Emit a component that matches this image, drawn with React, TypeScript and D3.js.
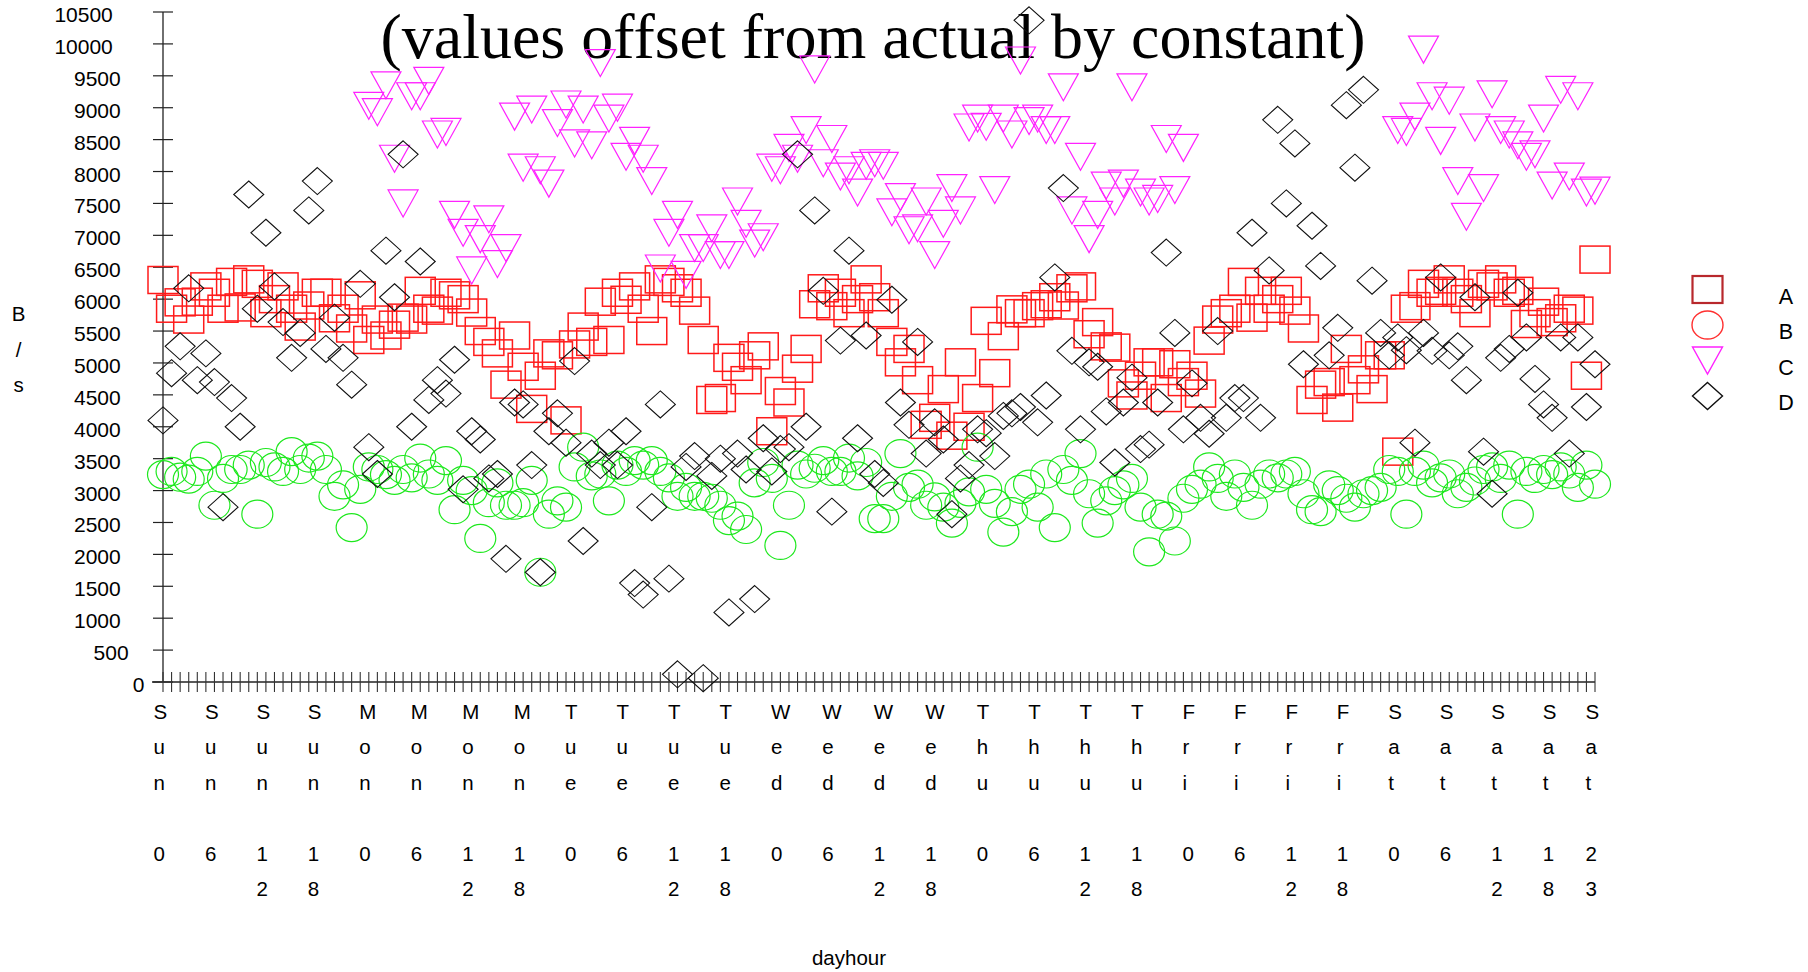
import React from "react";
import * as d3 from "d3";

// hour-of-week scatter, one value per hour (0 = Sun 0h ... 167 = Sat 23h)
const days = ["Sun", "Mon", "Tue", "Wed", "Thu", "Fri", "Sat"];
const labelHours = [0, 6, 12, 18];
const lastHour = 167;
const yMax = 10500;
const yStep = 500;

const seriesA = [
  6300, 5850, 5950, 5680, 5960, 6200, 6100, 5850, 6270, 5870, 6310, 6240, 5780, 6000, 6200, 5850, 5570, 5900, 6100, 6100, 5700, 5850, 5540, 6060,
  5360, 5680, 5430, 5600, 5710, 5680, 6130, 5850, 5820, 6100, 6060, 6000, 5790, 5500, 5330, 5150, 4660, 5430, 4940, 4280, 4800, 5150, 5120, 4100,
  5290, 5570, 5330, 5960, 5360, 6100, 5990, 6200, 5850, 5500, 6310, 6270, 6170, 6100, 5820, 5360, 4420, 4450, 5080, 4940, 4730, 5120, 5260, 3930,
  4560, 4380, 4910, 5220, 5920, 6170, 5890, 6100, 5780, 6000, 6310, 6030, 5780, 5330, 5010, 5220, 4730, 4030, 4140, 4590, 3860, 5010, 4000, 4450,
  5660, 4840, 5420, 5840, 5780, 5780, 5890, 5920, 6030, 5900, 6170, 6200, 5450, 5640, 5260, 5240, 4680, 4490, 4800, 5010, 5010, 4450, 4980, 4700,
  4800, 4520, 5350, 5680, 5780, 5850, 6270, 5710, 6130, 5850, 6000, 6130, 5820, 5540, 4420, 4660, 4700, 4300, 5220, 4730, 4900, 4590, 5120, 5120,
  3610, 5850, 5890, 6240, 6100, 6130, 6310, 6100, 6000, 5780, 6240, 6200, 6310, 6100, 6130, 5610, 5780, 5960, 5640, 5700, 5850, 5820, 4800, 6620,
];

const seriesB = [
  3250, 3300, 3210, 3180, 3300, 3540, 2770, 3190, 3330, 3330, 3400, 2630, 3440, 3370, 3300, 3610, 3330, 3510, 3540, 3330, 2910, 3090, 2420, 3020,
  3370, 3330, 3250, 3160, 3330, 3200, 3510, 3260, 3160, 3470, 2700, 3160, 3000, 2250, 2810, 3120, 2770, 2770, 2810, 3160, 1720, 2630, 2840, 2740,
  3370, 3680, 3230, 3260, 2840, 3400, 3300, 3470, 3400, 3470, 3300, 3200, 2910, 3050, 2910, 2910, 2880, 2770, 2530, 2600, 2390, 3120, 3440, 3190,
  2140, 2770, 3400, 3260, 3350, 3470, 3300, 3300, 3510, 3230, 3440, 2560, 2560, 2910, 3580, 3050, 3100, 2770, 2900, 2740, 2490, 2800, 2980, 3680,
  3020, 2800, 2350, 2670, 3020, 3100, 2740, 3260, 2420, 3330, 3160, 3580, 2950, 2490, 2840, 3000, 3090, 3190, 2740, 2040, 2630, 2600, 2210, 2880,
  3020, 3100, 3370, 3190, 2910, 3260, 3050, 2770, 3100, 3260, 3200, 3260, 3300, 2950, 2700, 2670, 3090, 3000, 2880, 2740, 2950, 3000, 3050, 3330,
  3300, 2630, 3300, 3400, 3120, 3200, 3260, 2950, 3050, 3150, 3330, 3370, 3190, 3400, 2630, 3300, 3190, 3330, 3250, 3370, 3260, 3050, 3400, 3100,
];

// C has no samples on Sunday and on Friday
const seriesC: (number | null)[] = [
  null, null, null, null, null, null, null, null, null, null, null, null, null, null, null, null, null, null, null, null, null, null, null, null,
  9030, 8930, 9350, 8200, 7500, 9180, 9180, 9420, 8580, 8620, 7320, 7040, 6450, 6940, 7250, 6550, 6800, 8860, 8060, 8970, 8020, 7810, 8760, 9050,
  8440, 8970, 8410, 9700, 8830, 9000, 8230, 8480, 8200, 7850, 6480, 7040, 7320, 6380, 6800, 6800, 7110, 6690, 6690, 7530, 7180, 6870, 6970, 8060,
  8020, 8370, 8200, 8650, 9600, 8130, 8510, 7920, 8020, 7670, 8090, 8130, 8090, 7360, 7600, 7080, 7110, 7530, 6690, 7180, 7740, 7390, 8690, 8830,
  8700, 7710, 8830, 8580, 9740, 8790, 8830, 8650, 8650, 9320, 7390, 8230, 6940, 7320, 7780, 7530, 7810, 9320, 7670, 7530, 7570, 8510, 7710, 8370,
  null, null, null, null, null, null, null, null, null, null, null, null, null, null, null, null, null, null, null, null, null, null, null, null,
  8650, 8620, 8860, 9910, 9180, 8480, 9110, 7850, 7290, 8690, 7740, 9210, 8650, 8580, 8410, 8230, 8270, 8830, 7780, 9280, 7920, 9180, 7670, 7700,
];

const seriesD = [
  4100, 4840, 5260, 6170, 4730, 5150, 4700, 2740, 4450, 4000, 7640, 5850, 7040, 6200, 5640, 5080, 5470, 7390, 7850, 5220, 5710, 5080, 4660, 6240,
  3680, 3260, 6760, 6030, 8270, 4000, 6590, 4420, 4730, 4520, 5050, 3020, 3930, 3800, 3190, 3260, 1930, 4380, 4350, 3400, 1720, 3930, 4210, 3750,
  5030, 2210, 3580, 3400, 3750, 3400, 3930, 1550, 1370, 2740, 4350, 1620, 120, 3370, 3540, 60, 3230, 3500, 1090, 3580, 3330, 1300, 3820, 3300,
  3650, 3680, 8270, 4000, 7390, 6130, 2670, 5350, 6760, 3820, 5430, 3260, 3120, 5990, 4380, 4030, 5330, 3580, 4070, 3800, 2630, 3190, 3400, 3960,
  3900, 3540, 4170, 4210, 4310, 10370, 4070, 4490, 6340, 7740, 5190, 3960, 5010, 4940, 4240, 3440, 4380, 4770, 3650, 3720, 4380, 6730, 5470, 3960,
  4680, 4140, 3890, 5500, 4140, 4450, 4450, 7040, 4140, 6450, 8810, 7500, 8440, 4980, 7150, 6520, 5120, 5550, 9040, 8060, 9280, 6290, 5470, 5120,
  5400, 5200, 3750, 5470, 5190, 6340, 5120, 5260, 4730, 6030, 3610, 2950, 5080, 5220, 6100, 5400, 4750, 4350, 4140, 5400, 3580, 5400, 4310, 4980,
];

const legendNames = ["A", "B", "C", "D"];

const W = 1808;
const H = 972;
const MW = 15; // half marker width
const MH = 13.5; // half marker height
const font = "'Liberation Sans', Arial, sans-serif";

const x = d3.scaleLinear().domain([0, lastHour]).range([163, 1595]);
const y = d3.scaleLinear().domain([0, yMax]).range([682, 12]);

type Shape = "square" | "circle" | "triangle" | "diamond";

function Marker({ shape, cx, cy, color, sw }: { shape: Shape; cx: number; cy: number; color: string; sw: number }) {
  const common = { fill: "none", stroke: color, strokeWidth: sw };
  if (shape === "square") return <rect x={cx - MW} y={cy - MH} width={MW * 2} height={MH * 2} {...common} />;
  if (shape === "circle") return <ellipse cx={cx} cy={cy} rx={MW + 0.5} ry={MH + 0.5} {...common} />;
  if (shape === "triangle")
    return <path d={`M${cx - MW},${cy - MH}L${cx + MW},${cy - MH}L${cx},${cy + MH}Z`} {...common} />;
  return <path d={`M${cx},${cy - MH}L${cx + MW},${cy}L${cx},${cy + MH}L${cx - MW},${cy}Z`} {...common} />;
}

const series: { name: string; values: (number | null)[]; shape: Shape; color: string; legendColor: string; sw: number }[] = [
  { name: legendNames[0], values: seriesA, shape: "square", color: "#ff1a1a", legendColor: "#b8282c", sw: 1.5 },
  { name: legendNames[1], values: seriesB, shape: "circle", color: "#1ee81e", legendColor: "#ff3030", sw: 1.2 },
  { name: legendNames[2], values: seriesC, shape: "triangle", color: "#ff22ff", legendColor: "#ff22ff", sw: 1.2 },
  { name: legendNames[3], values: seriesD, shape: "diamond", color: "#111111", legendColor: "#111111", sw: 1.1 },
];

export default function App() {
  const yTicks = d3.range(0, yMax + 1, yStep);
  const hours = d3.range(0, lastHour + 1);
  const xLabels: { h: number; day: string; hour: number }[] = [];
  days.forEach((day, di) =>
    labelHours.forEach((lh) => xLabels.push({ h: di * 24 + lh, day, hour: lh }))
  );
  xLabels.push({ h: lastHour, day: days[6], hour: 23 });

  const rowGap = 35.5;
  const firstRow = 718.5;

  return (
    <svg
      width={W}
      height={H}
      style={{ position: "absolute", left: 0, top: 0, display: "block", background: "#fff" }}
      fontFamily={font}
    >
      <rect width={W} height={H} fill="#fff" />

      {/* title */}
      <text x={873} y={58} textAnchor="middle" fontFamily="'Liberation Serif', 'Times New Roman', serif" fontSize={64} fill="#000">
        (values offset from actual by constant)
      </text>

      {/* y axis */}
      <line x1={x(0)} x2={x(0)} y1={y(yMax)} y2={y(0)} stroke="#222" strokeWidth={1.3} />
      {yTicks.map((t) => {
        const label = String(t);
        return (
          <g key={t}>
            <line x1={x(0) - 10} x2={x(0) + 10} y1={y(t)} y2={y(t)} stroke="#222" strokeWidth={1.2} />
            <text x={152.3 - 7.9 * label.length} y={y(t) + 10} textAnchor="end" fontSize={21} fill="#000">
              {label}
            </text>
          </g>
        );
      })}

      {/* x axis */}
      <line x1={x(0) - 11} x2={x(lastHour)} y1={y(0)} y2={y(0)} stroke="#222" strokeWidth={1.3} />
      {hours.map((h) => (
        <line key={h} x1={x(h)} x2={x(h)} y1={y(0) - 10} y2={y(0) + 10} stroke="#333" strokeWidth={1.1} />
      ))}
      {xLabels.map((l) => {
        const chars = [...l.day.split(""), "", ...String(l.hour).split("")];
        return (
          <g key={l.h}>
            {chars.map((c, i) =>
              c ? (
                <text key={i} x={x(l.h) - 9.5} y={firstRow + i * rowGap} fontSize={20.5} fill="#000">
                  {c}
                </text>
              ) : null
            )}
          </g>
        );
      })}

      {/* axis titles */}
      {["B", "/", "s"].map((c, i) => (
        <text key={i} x={18.5} y={321 + i * rowGap} textAnchor="middle" fontSize={20.5} fill="#000">
          {c}
        </text>
      ))}
      <text x={849} y={965} textAnchor="middle" fontSize={20.5} fill="#000">
        dayhour
      </text>

      {/* points */}
      {series.map((s) => (
        <g key={s.name}>
          {s.values.map((v, h) =>
            v == null ? null : <Marker key={h} shape={s.shape} cx={x(h)} cy={y(v)} color={s.color} sw={s.sw} />
          )}
        </g>
      ))}

      {/* legend */}
      {series.map((s, i) => {
        const cy = 289.5 + i * rowGap;
        return (
          <g key={s.name}>
            <Marker shape={s.shape} cx={1707.5} cy={cy} color={s.legendColor} sw={i === 0 ? 2.2 : 1.4} />
            <text x={1786} y={cy + 14} textAnchor="middle" fontSize={21.5} fill="#000">
              {s.name}
            </text>
          </g>
        );
      })}
    </svg>
  );
}
